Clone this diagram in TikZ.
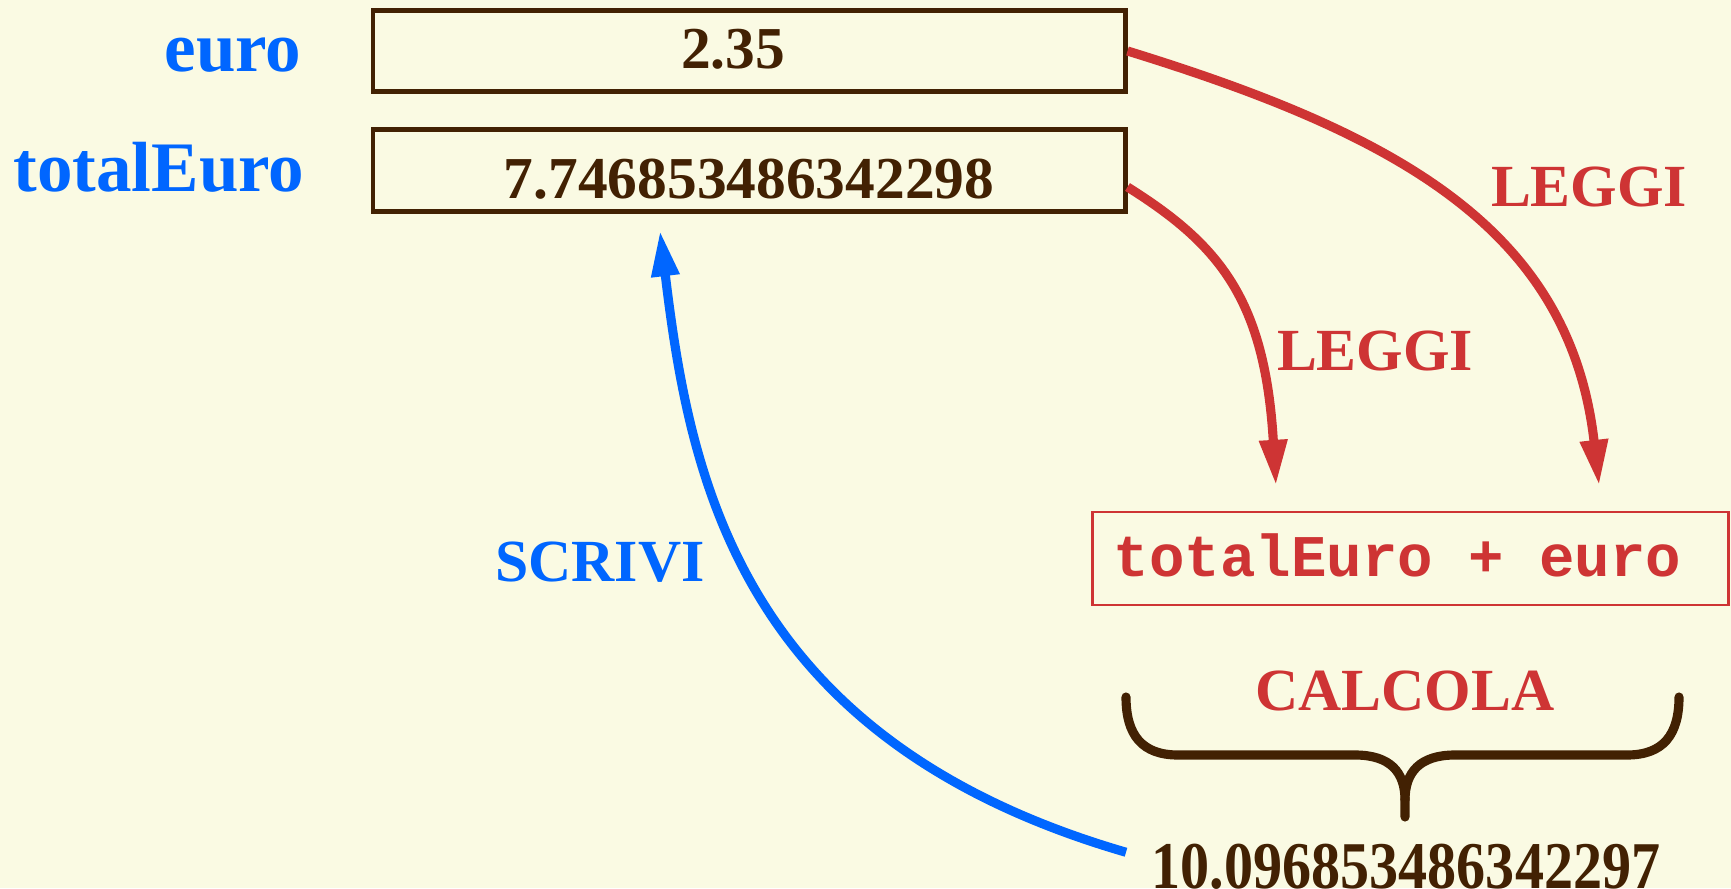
\documentclass[tikz,border=0pt]{standalone}
\usepackage{fontspec}
\setmainfont{Liberation Serif}
\setmonofont{Liberation Mono}
\usepackage{xcolor}
\usepackage{tikz}
\usetikzlibrary{arrows.meta, positioning, calc}
\definecolor{cream}{RGB}{250,250,227}
\definecolor{brownink}{RGB}{66,33,3}
\definecolor{readred}{RGB}{206,52,52}
\definecolor{writeblue}{RGB}{0,102,255}
\tikzstyle{valbox} = [draw=brownink, line width=1.3pt, minimum width=7.52cm, inner sep=0pt, text=brownink, font=\fontsize{16.9}{20}\selectfont\bfseries, text depth=0pt]
\tikzstyle{arrow} = [line width=2.6pt, -{Triangle[length=13pt,width=7.5pt]}]

\begin{document}
\begin{tikzpicture}[
    x=0.01cm, y=-0.01cm,
    varname/.style={text=writeblue, font=\fontsize{20.2}{23}\selectfont\bfseries, anchor=base east, inner sep=0pt},
    action/.style={font=\fontsize{17}{20}\selectfont\bfseries, anchor=base, inner sep=0pt},
    exprbox/.style={draw=readred, line width=0.8pt, minimum width=6.35cm, minimum height=0.93cm, inner sep=0pt, text=readred, font=\fontsize{16.8}{20}\selectfont\ttfamily\bfseries, text height=10pt, text depth=0pt}
]
\useasboundingbox[fill=cream] (0,0) rectangle (1731,888);

% Nodes
\node (euroname) [varname] at (302,72) {euro};
\node (totname) [varname] at (305,192) {totalEuro};
\node (euroval) [valbox, minimum height=0.805cm, text height=9.7pt] at (749,51) {\hspace*{-0.32cm}2.35};
\node (totval) [valbox, minimum height=0.815cm, text height=16.2pt] at (749,170.5) {7.746853486342298};
\node (expr) [exprbox] at (1410.5,558.5) {\hspace*{-0.26cm}totalEuro + euro};
\node (calcola) [action, text=readred] at (1405,710) {CALCOLA};
\node (result) [anchor=base, inner sep=0pt, text=brownink, font=\fontsize{19}{22}\selectfont\bfseries] at (1406,888) {\scalebox{0.87}[1]{10.096853486342297}};
\node (leggia) [action, text=readred] at (1589,206) {LEGGI};
\node (leggib) [action, text=readred] at (1375,370) {LEGGI};
\node (scrivi) [action, text=writeblue] at (600,581) {SCRIVI};

% Arrow ends
\coordinate (ina) at ([xshift=1.885cm, yshift=0.25cm]expr.north);
\coordinate (inb) at ([xshift=-1.345cm, yshift=0.25cm]expr.north);
\coordinate (outb) at ([yshift=-0.165cm]totval.east);
\coordinate (outw) at ([xshift=-0.25cm, yshift=0.14cm]result.west);
\coordinate (inw) at ([xshift=-0.89cm, yshift=-0.17cm]totval.south);

% Arrows
\draw [arrow, readred] (euroval.east) .. controls (1400,135) and (1570,230) .. (ina);
\draw [arrow, readred] (outb) .. controls (1220,245) and (1265,300) .. (inb);
\draw [arrow, writeblue] (outw) .. controls (740,740) and (690,480) .. (inw);

% Brace
\draw [brownink, line width=2.6pt, line cap=round] (1126,697) .. controls (1126,735) and (1142,755) .. (1178,755) -- (1355,755) .. controls (1390,755) and (1405,772) .. (1405,800) -- (1405,817);
\draw [brownink, line width=2.6pt, line cap=round] (1679,697) .. controls (1679,735) and (1663,755) .. (1627,755) -- (1455,755) .. controls (1420,755) and (1405,772) .. (1405,800);

\end{tikzpicture}
\end{document}
